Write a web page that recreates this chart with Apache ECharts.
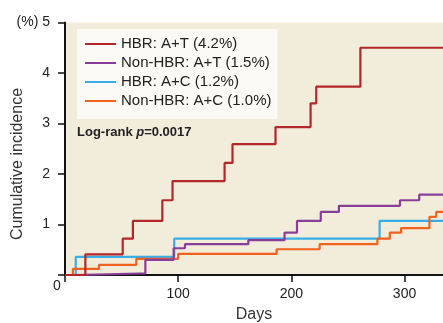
<!DOCTYPE html>
<html>
<head>
<meta charset="utf-8">
<script src="https://cdn.jsdelivr.net/npm/echarts@6/dist/echarts.min.js"></script>
<style>
  html, body { margin: 0; padding: 0; background: #fff; }
  #chart { width: 443px; height: 323px; }
</style>
</head>
<body>
<div id="chart"></div>
<script>
// series names as in the legend
const seriesNames = ['HBR: A+T (4.2%)', 'Non-HBR: A+T (1.5%)', 'HBR: A+C (1.2%)', 'Non-HBR: A+C (1.0%)'];

// event days and cumulative incidence (%)
const hbrATDays = [0, 18, 51, 60, 86, 95, 141, 148, 186, 217, 222, 261, 334];
const hbrATPct = [0, 0.41, 0.72, 1.07, 1.48, 1.86, 2.22, 2.59, 2.93, 3.40, 3.73, 4.50, 4.50];

const nonHbrATDays = [0, 8, 66, 71, 96, 106, 162, 194, 205, 226, 242, 296, 313, 334];
const nonHbrATPct = [0, 0.03, 0.03, 0.30, 0.53, 0.61, 0.69, 0.84, 1.07, 1.25, 1.37, 1.48, 1.59, 1.59];

const hbrACDays = [0, 9.5, 96.5, 278, 334];
const hbrACPct = [0, 0.36, 0.72, 1.07, 1.07];

const nonHbrACDays = [0, 7, 30, 63, 100, 187, 225, 276, 287, 297, 322, 328, 334];
const nonHbrACPct = [0, 0.12, 0.20, 0.32, 0.42, 0.51, 0.61, 0.72, 0.84, 0.93, 1.15, 1.25, 1.25];

const xTicks = [0, 100, 200, 300];
const xLabels = [100, 200, 300];
const yTicks = [0, 1, 2, 3, 4, 5];
const yLabels = [1, 2, 3, 4, 5];

const colors = ['#b3262a', '#8a3d98', '#39aee6', '#f0621e'];
const narrow = '"Liberation Sans Narrow", "Liberation Sans", Arial, sans-serif';

function pairs(days, pct) {
  return days.map((d, i) => [d, pct[i]]);
}

const chart = echarts.init(document.getElementById('chart'), null, { renderer: 'canvas' });

function line(idx, days, pct) {
  return {
    name: seriesNames[idx],
    type: 'line',
    step: 'end',
    showSymbol: false,
    symbol: 'none',
    silent: true,
    color: colors[idx],
    lineStyle: { width: 2.2, color: colors[idx] },
    data: pairs(days, pct)
  };
}

let option = {
  animation: false,
  grid: {
    left: 65,
    right: 0,
    top: 22.5,
    bottom: 48,
    containLabel: false,
    outerBoundsMode: 'none',
    show: true,
    backgroundColor: '#f2eddb',
    borderWidth: 0
  },
  legend: {
    orient: 'vertical',
    left: 77,
    top: 29,
    data: seriesNames,
    icon: 'rect',
    itemWidth: 31,
    itemHeight: 2,
    itemGap: 3,
    padding: [7, 6, 10, 8],
    backgroundColor: '#fbfaf5',
    selectedMode: false,
    textStyle: {
      fontFamily: narrow,
      fontSize: 15,
      lineHeight: 16,
      color: '#222'
    }
  },
  xAxis: {
    type: 'value',
    min: 0,
    max: 334,
    interval: 100,
    name: 'Days',
    nameLocation: 'middle',
    nameGap: 32,
    nameTextStyle: { fontFamily: 'Liberation Sans, Arial, sans-serif', fontSize: 16, color: '#333' },
    axisLine: { show: true, lineStyle: { color: '#111', width: 2 } },
    axisTick: { show: true, length: 7, customValues: xTicks, lineStyle: { color: '#111', width: 1.5 } },
    axisLabel: {
      margin: 12,
      fontFamily: narrow,
      fontSize: 14,
      color: '#222',
      customValues: xLabels
    },
    splitLine: { show: false }
  },
  yAxis: {
    type: 'value',
    min: 0,
    max: 5,
    interval: 1,
    axisLine: { show: true, lineStyle: { color: '#111', width: 2 } },
    axisTick: { show: true, length: 7, customValues: yTicks, lineStyle: { color: '#111', width: 1.5 } },
    axisLabel: {
      margin: 15,
      fontFamily: narrow,
      fontSize: 14,
      color: '#222',
      customValues: yLabels,
      formatter: v => (v === 5 ? '(%) 5' : String(v))
    },
    splitLine: { show: false }
  },
  graphic: [
    {
      type: 'text',
      left: 53,
      top: 279,
      style: { text: '0', font: '14px ' + narrow, fill: '#222' }
    },
    {
      type: 'text',
      x: 18,
      y: 164,
      rotation: Math.PI / 2,
      style: {
        text: 'Cumulative incidence',
        font: '16px "Liberation Sans", Arial, sans-serif',
        fill: '#333',
        align: 'center',
        verticalAlign: 'middle'
      }
    },
    {
      type: 'text',
      left: 77,
      top: 126,
      style: {
        rich: {
          b: { fontFamily: narrow, fontSize: 13, fontWeight: 'bold', fill: '#222' },
          i: { fontFamily: narrow, fontSize: 13, fontWeight: 'bold', fontStyle: 'italic', fill: '#222' }
        },
        text: '{b|Log-rank }{i|p}{b|=0.0017}'
      }
    }
  ],
  series: [
    line(2, hbrACDays, hbrACPct),
    line(3, nonHbrACDays, nonHbrACPct),
    line(1, nonHbrATDays, nonHbrATPct),
    line(0, hbrATDays, hbrATPct)
  ]
};

chart.setOption(option);
</script>
</body>
</html>
